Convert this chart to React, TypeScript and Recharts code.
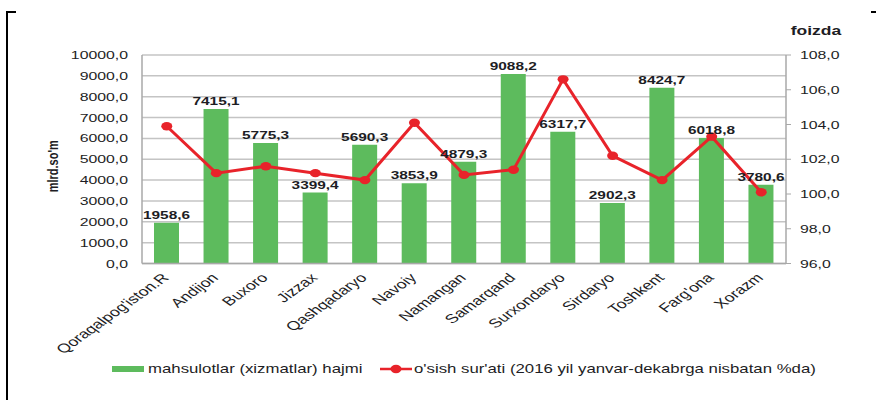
import React from "react";
import {
  ComposedChart,
  Bar,
  Line,
  XAxis,
  YAxis,
  CartesianGrid,
  Legend,
  LabelList,
} from "recharts";

const regions = [
  "Qoraqalpog'iston.R",
  "Andijon",
  "Buxoro",
  "Jizzax",
  "Qashqadaryo",
  "Navoiy",
  "Namangan",
  "Samarqand",
  "Surxondaryo",
  "Sirdaryo",
  "Toshkent",
  "Farg'ona",
  "Xorazm",
];

const volumes = [
  1958.6, 7415.1, 5775.3, 3399.4, 5690.3, 3853.9, 4879.3, 9088.2, 6317.7, 2902.3, 8424.7,
  6018.8, 3780.6,
];

const growth = [
  103.9, 101.2, 101.6, 101.2, 100.8, 104.1, 101.1, 101.4, 106.6, 102.2, 100.8, 103.3, 100.1,
];

const volumeTicks = [0, 1000, 2000, 3000, 4000, 5000, 6000, 7000, 8000, 9000, 10000];
const growthTicks = [96, 98, 100, 102, 104, 106, 108];

const volumeName = "mahsulotlar (xizmatlar) hajmi";
const growthName = "o'sish sur'ati (2016 yil yanvar-dekabrga nisbatan %da)";

const data = regions.map((name, i) => ({
  name,
  volume: volumes[i],
  growth: growth[i],
}));

const FONT = "'Liberation Sans', Arial, sans-serif";
const GREEN = "#5DBB5D";
const RED = "#E8232A";
const TEXT = "#1d1d24";
// the source image is stretched sideways, so text is too
const SX = 1.4;

const fmt = (v: number) => v.toFixed(1).replace(".", ",");

type StretchProps = {
  x: number;
  y: number;
  anchor?: "start" | "middle" | "end";
  size: number;
  weight?: string | number;
  rotate?: number;
  dy?: string;
  children: React.ReactNode;
};

function Stretch({ x, y, anchor = "middle", size, weight = "normal", rotate = 0, dy, children }: StretchProps) {
  return (
    <text
      transform={`translate(${x},${y}) scale(${SX},1) rotate(${rotate})`}
      textAnchor={anchor}
      fontSize={size}
      fontWeight={weight}
      fontFamily={FONT}
      fill={TEXT}
      dy={dy}
    >
      {children}
    </text>
  );
}

function LeftTick(props: any) {
  return (
    <Stretch x={props.x} y={props.y} anchor="end" size={11.3} dy="0.36em">
      {fmt(props.payload.value)}
    </Stretch>
  );
}

function RightTick(props: any) {
  return (
    <Stretch x={props.x} y={props.y} anchor="start" size={11.3} dy="0.36em">
      {fmt(props.payload.value)}
    </Stretch>
  );
}

function CategoryTick(props: any) {
  return (
    <Stretch x={props.x + 3} y={props.y + 15} anchor="end" size={12.6} rotate={-45}>
      {props.payload.value}
    </Stretch>
  );
}

function BarValue(props: any) {
  const { x, y, width, value } = props;
  return (
    <Stretch x={Number(x) + Number(width) / 2} y={Number(y) - 4} size={11} weight="bold">
      {fmt(Number(value))}
    </Stretch>
  );
}

function GrowthDot(props: any) {
  const { cx, cy } = props;
  if (cx == null || cy == null) return null;
  return <ellipse key={`d-${cx}`} cx={cx} cy={cy} rx={5.5} ry={4.2} fill={RED} />;
}

function LegendBox() {
  return (
    <svg width={876} height={40}>
      <rect x={112} y={16} width={32} height={6} fill={GREEN} />
      <Stretch x={148} y={23} anchor="start" size={12}>
        {volumeName}
      </Stretch>
      <line x1={380} x2={412} y1={19} y2={19} stroke={RED} strokeWidth={2.5} />
      <ellipse cx={396} cy={19} rx={5.5} ry={4.2} fill={RED} />
      <Stretch x={414} y={23} anchor="start" size={12}>
        {growthName}
      </Stretch>
    </svg>
  );
}

export default function App() {
  return (
    <div
      style={{
        position: "fixed",
        left: 0,
        top: 0,
        width: 876,
        height: 400,
        background: "#fff",
        overflow: "hidden",
      }}
    >
      {/* remains of the frame around the picture */}
      <div style={{ position: "absolute", left: 6, top: 11, width: 1.5, height: 400, background: "#000" }} />
      <div style={{ position: "absolute", left: 6, top: 11, width: 10, height: 1.5, background: "#000" }} />
      <div style={{ position: "absolute", left: 871, top: 11, width: 5, height: 1.5, background: "#000" }} />

      <ComposedChart
        width={876}
        height={400}
        data={data}
        margin={{ top: 55, right: 30, bottom: 10, left: 42 }}
        style={{ fontFamily: FONT }}
      >
        <CartesianGrid yAxisId="left" vertical={false} stroke="#C4C4C4" strokeWidth={1.5} />
        <XAxis
          dataKey="name"
          interval={0}
          height={86.5}
          tickLine={false}
          tickSize={0}
          tickMargin={0}
          axisLine={{ stroke: "#A8A8A8", strokeWidth: 1.5 }}
          tick={<CategoryTick />}
        />
        <YAxis
          yAxisId="left"
          width={100}
          domain={[0, 10000]}
          ticks={volumeTicks}
          interval={0}
          tickLine={false}
          tickSize={0}
          tickMargin={14}
          axisLine={{ stroke: "#A8A8A8", strokeWidth: 1.5 }}
          tick={<LeftTick />}
          label={(p: any) => {
            const vb = p.viewBox;
            return (
              <Stretch
                x={vb.x + 16}
                y={vb.y + vb.height / 2 + 7}
                size={11}
                weight="bold"
                rotate={-90}
              >
                mlrd.so'm
              </Stretch>
            );
          }}
        />
        <YAxis
          yAxisId="right"
          orientation="right"
          width={60}
          domain={[96, 108]}
          ticks={growthTicks}
          interval={0}
          tickSize={5}
          tickMargin={9}
          tickLine={{ stroke: "#A8A8A8" }}
          axisLine={{ stroke: "#A8A8A8", strokeWidth: 1.5 }}
          tick={<RightTick />}
          label={(p: any) => {
            const vb = p.viewBox;
            return (
              <Stretch x={vb.x + 30} y={vb.y - 20} size={12.5} weight="bold">
                foizda
              </Stretch>
            );
          }}
        />
        <Bar
          yAxisId="left"
          dataKey="volume"
          name={volumeName}
          fill={GREEN}
          barSize={25}
          isAnimationActive={false}
        >
          <LabelList dataKey="volume" content={<BarValue />} />
        </Bar>
        <Line
          yAxisId="right"
          dataKey="growth"
          name={growthName}
          type="linear"
          stroke={RED}
          strokeWidth={3}
          dot={<GrowthDot />}
          activeDot={false}
          isAnimationActive={false}
        />
        <Legend
          verticalAlign="bottom"
          content={<LegendBox />}
          wrapperStyle={{ left: 0, width: 876, height: 40 }}
        />
      </ComposedChart>
    </div>
  );
}
